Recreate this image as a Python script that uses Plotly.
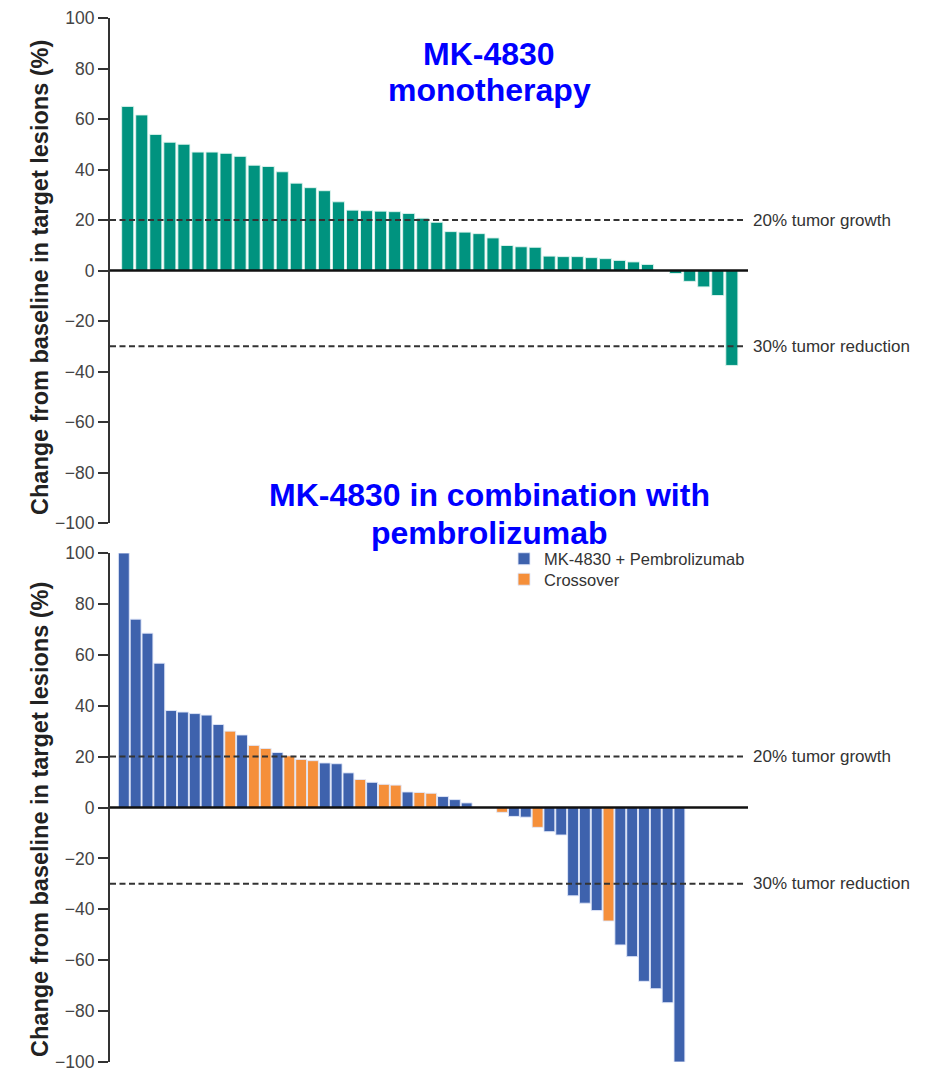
import plotly.graph_objects as go

# ---------------- data ----------------
mono_values = [65.0, 61.6, 53.9, 50.8, 50.0, 46.9, 46.9, 46.4, 45.2, 41.7, 41.2,
               39.1, 34.6, 32.8, 31.6, 27.2, 23.9, 23.7, 23.5, 23.3, 22.6, 20.7,
               19.1, 15.4, 15.2, 14.6, 12.9, 9.9, 9.4, 9.2, 5.7, 5.5, 5.5, 5.1,
               4.7, 4.0, 3.4, 2.4, 0.0, -1.2, -4.3, -6.5, -9.9, -37.6]

combo_values = [100.0, 74.0, 68.5, 56.7, 38.1, 37.5, 36.9, 36.3, 32.6, 30.0,
                28.5, 24.4, 23.2, 21.6, 20.3, 18.9, 18.4, 17.5, 17.2, 13.6,
                11.0, 9.9, 9.1, 8.8, 6.1, 5.9, 5.6, 4.3, 3.1, 1.8, 0.0, 0.0,
                -1.9, -3.5, -3.8, -7.8, -9.5, -10.8, -34.7, -37.6, -40.5, -44.6,
                -54.0, -58.6, -68.3, -71.2, -76.7, -100.0]

combo_group = ["B", "B", "B", "B", "B", "B", "B", "B", "B", "O",
               "B", "O", "O", "B", "O", "O", "O", "B", "B", "B",
               "O", "B", "O", "O", "B", "O", "O", "B", "B", "B", "B", "B",
               "O", "B", "B", "O", "B", "B", "B", "B", "B", "O",
               "B", "B", "B", "B", "B", "B"]

group_names = {"B": "MK-4830 + Pembrolizumab", "O": "Crossover"}
y_ticks = [-100, -80, -60, -40, -20, 0, 20, 40, 60, 80, 100]
ref_levels = [20, -30]
ref_labels = ["20% tumor growth", "30% tumor reduction"]

TEAL = "#00937F"
BLUE = "#3E62AD"
ORANGE = "#F58F3A"
FONT = "Liberation Sans, Arial, sans-serif"

# page has an 8px body margin; figure sized to fit the 928x1072 window
OFF = 8
W, H = 928 - OFF, 1072 - OFF


def px(x):
    return (x - OFF) / W


def py(y):
    return 1 - (y - OFF) / H


fig = go.Figure()

# top: monotherapy
fig.add_trace(go.Bar(
    x=list(range(len(mono_values))), y=mono_values,
    marker=dict(color=TEAL, line=dict(color="rgba(225,245,240,0.9)", width=1)),
    width=0.86, showlegend=False, xaxis="x", yaxis="y"))

# bottom: combination
colors = {"B": BLUE, "O": ORANGE}
legends = {"B": "legend", "O": "legend2"}
for g in ["B", "O"]:
    ys = [v if grp == g else None for v, grp in zip(combo_values, combo_group)]
    fig.add_trace(go.Bar(
        x=list(range(len(combo_values))), y=ys, name=group_names[g],
        marker=dict(color=colors[g], line=dict(color="rgba(225,232,250,0.9)", width=1)),
        width=0.92, xaxis="x2", yaxis="y2", legend=legends[g]))

yax = dict(range=[-100, 100], tickvals=y_ticks, showgrid=False, zeroline=False,
           showline=True, linewidth=2, linecolor="#333", ticks="outside",
           ticklen=10, tickwidth=2, tickcolor="#333", automargin=False,
           ticklabeloverflow="allow",
           tickfont=dict(family=FONT, size=17.5, color="#444"))

fig.update_layout(
    width=W, height=H, margin=dict(l=0, r=0, t=0, b=0, autoexpand=False),
    paper_bgcolor="white", plot_bgcolor="white", barmode="overlay",
    xaxis=dict(domain=[px(110), px(748)], range=[-1.26, 44.15], visible=False, anchor="y"),
    yaxis=dict(domain=[py(523), py(18)], anchor="x", **yax),
    xaxis2=dict(domain=[px(110), px(748)], range=[-1.17, 52.8], visible=False, anchor="y2"),
    yaxis2=dict(domain=[py(1062), py(553)], anchor="x2", **yax),
    legend=dict(x=px(504), y=py(559), xanchor="left", yanchor="middle",
                bgcolor="rgba(0,0,0,0)", font=dict(family=FONT, size=16.5, color="#333")),
    legend2=dict(x=px(504), y=py(579.5), xanchor="left", yanchor="middle",
                 bgcolor="rgba(0,0,0,0)", font=dict(family=FONT, size=16.5, color="#333")),
    showlegend=True,
)

shapes = []
annotations = []
for xr, yr in [("x", "y"), ("x2", "y2")]:
    # zero line
    shapes.append(dict(type="line", xref=xr + " domain", yref=yr, x0=0, x1=1, y0=0, y1=0,
                       line=dict(color="#111", width=2.5), layer="above"))
    for lvl, lab in zip(ref_levels, ref_labels):
        shapes.append(dict(type="line", xref=xr + " domain", yref=yr, x0=0, x1=(744 - 110) / (748 - 110),
                           y0=lvl, y1=lvl, line=dict(color="#333", width=2, dash="6px,3.5px"),
                           layer="above"))
        annotations.append(dict(text=lab, xref="paper", yref=yr, x=px(751), y=lvl,
                                xanchor="left", yanchor="middle", showarrow=False,
                                font=dict(family=FONT, size=17, color="#333")))

# titles
title_font = dict(family=FONT, size=32, color="#0000FF")
for txt, yc in [("MK-4830", 54), ("monotherapy", 90),
                ("MK-4830 in combination with", 495), ("pembrolizumab", 533)]:
    annotations.append(dict(text="<b>" + txt + "</b>", xref="paper", yref="paper",
                            x=px(489), y=py(yc), xanchor="center", yanchor="middle",
                            showarrow=False, font=title_font))

# y-axis titles
for yc in [278, 820]:
    annotations.append(dict(text="<b>Change from baseline in target lesions (%)</b>",
                            xref="paper", yref="paper", x=px(40), y=py(yc),
                            xanchor="center", yanchor="middle", textangle=-90,
                            showarrow=False, font=dict(family=FONT, size=23.5, color="#222")))

fig.update_layout(shapes=shapes, annotations=annotations)
fig.write_html("out.html")
